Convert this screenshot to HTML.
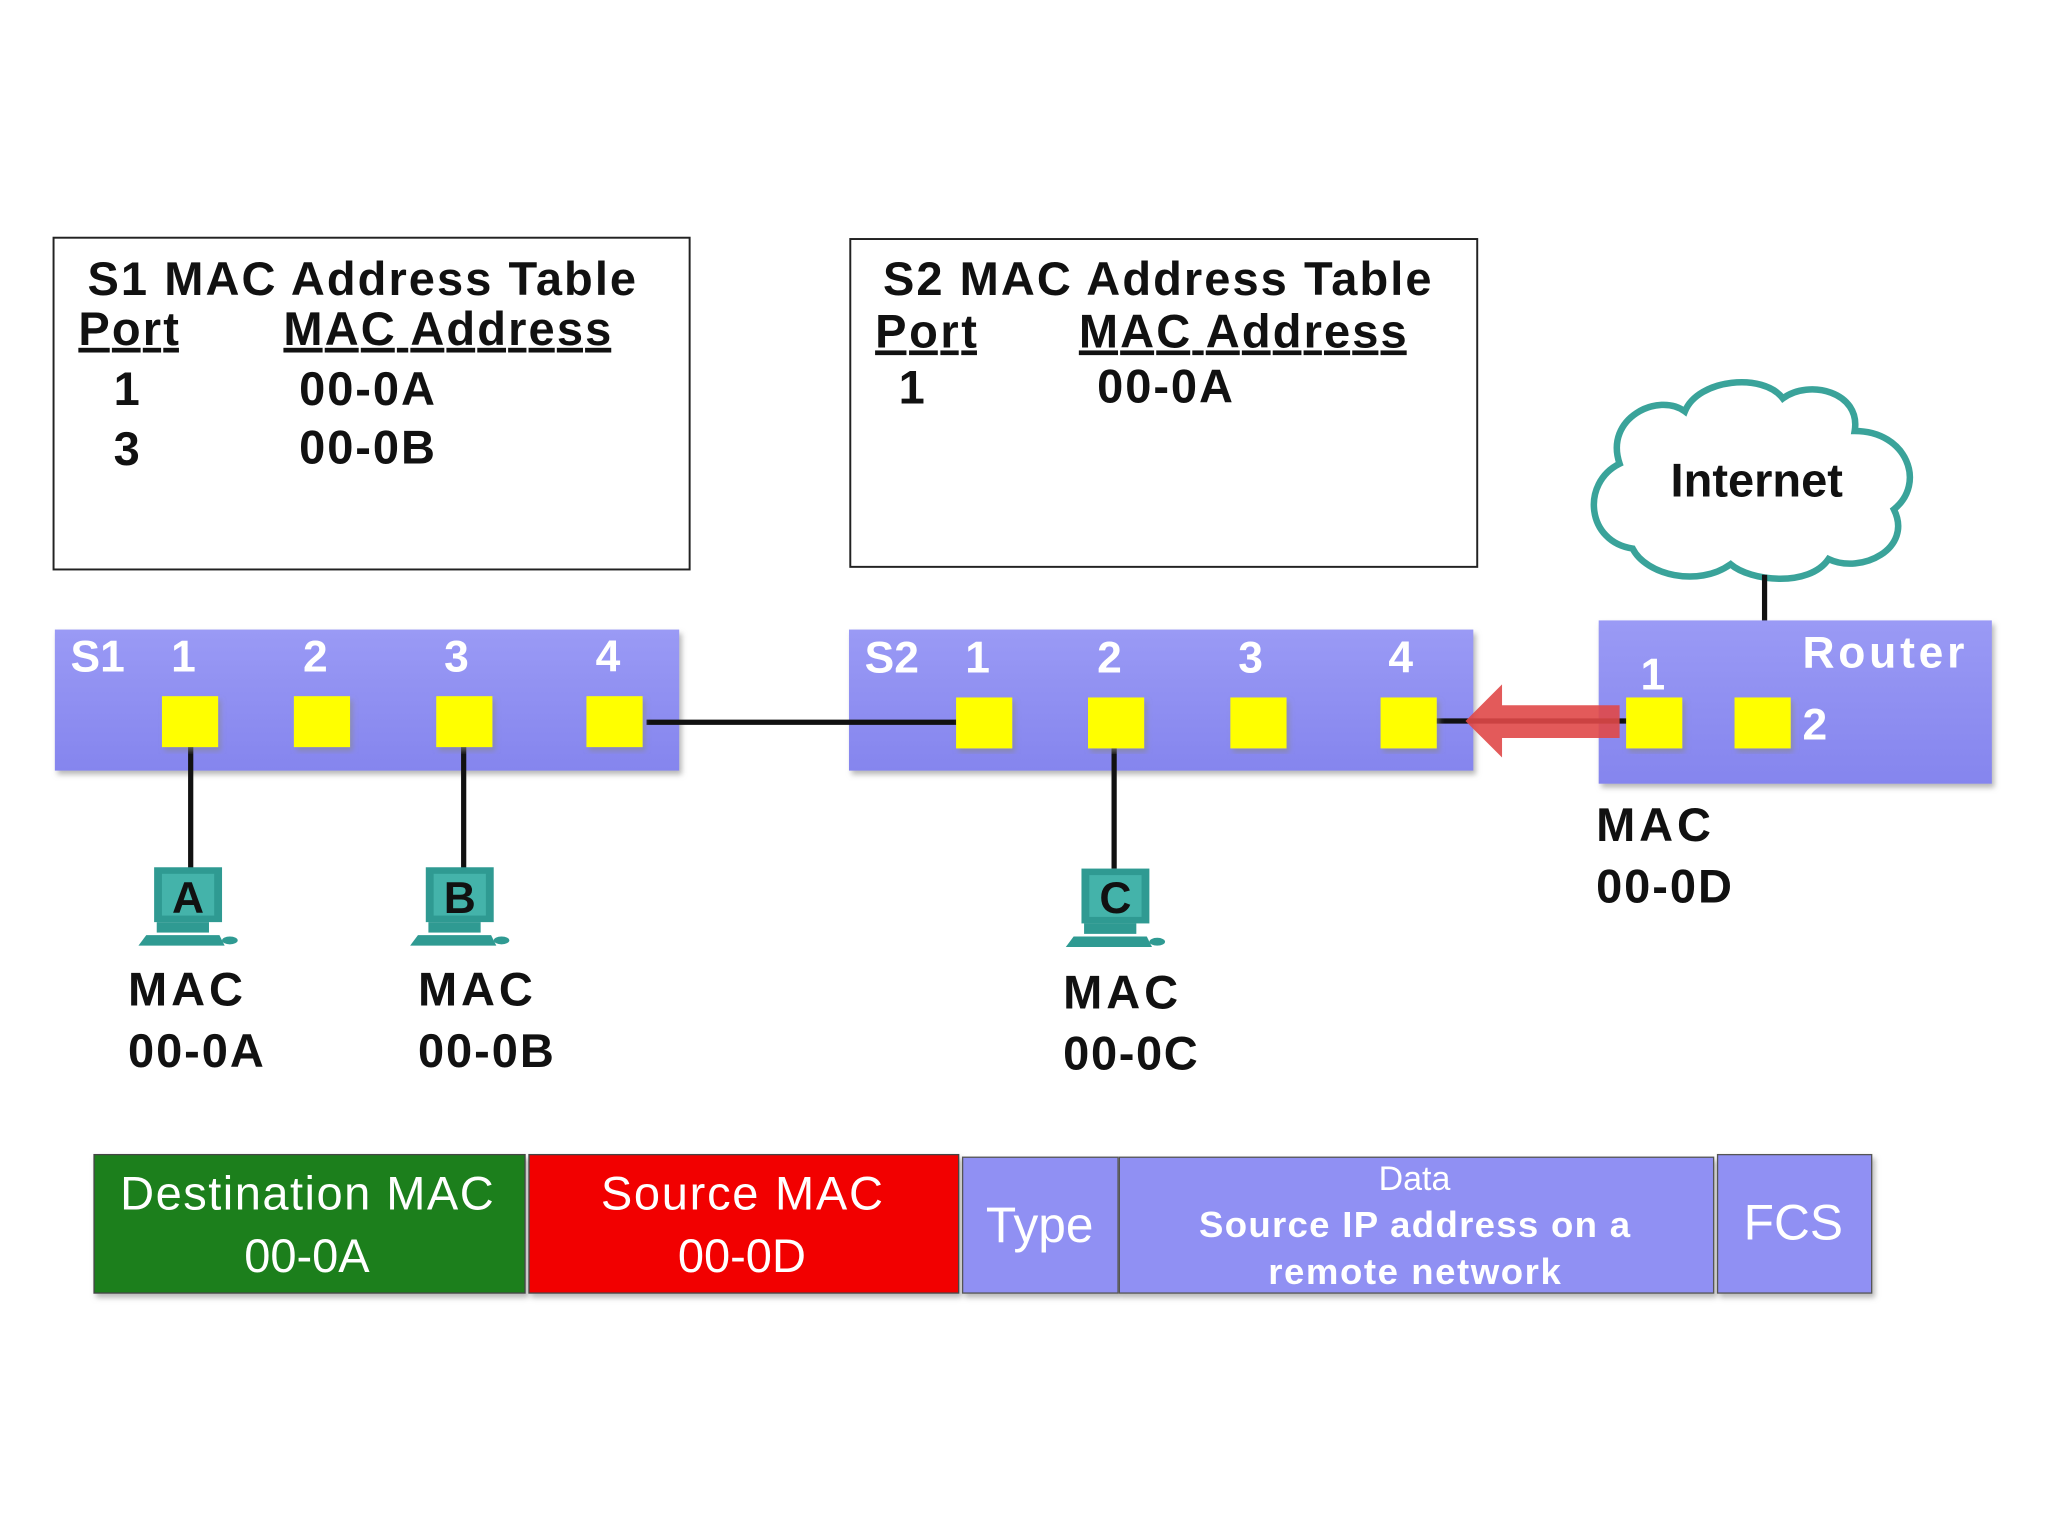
<!DOCTYPE html>
<html><head><style>html,body{margin:0;padding:0;background:#fff}svg{display:block}</style></head>
<body>
<svg width="2048" height="1536" viewBox="0 0 1568 1176" xmlns="http://www.w3.org/2000/svg" font-family="Liberation Sans, Arial, sans-serif">
<defs>
<linearGradient id="sw" x1="0" y1="0" x2="0" y2="1"><stop offset="0" stop-color="#9a9af5"/><stop offset="1" stop-color="#8585ee"/></linearGradient>
<filter id="sh"><feDropShadow dx="2" dy="3" stdDeviation="2" flood-color="#888" flood-opacity="0.6"/></filter>
</defs>
<rect width="1568" height="1176" fill="#fff"/>
<!-- tables -->
<rect x="41" y="182" width="487" height="254" fill="#fff" stroke="#222" stroke-width="1.5"/>
<g font-weight="bold" fill="#111" font-size="36">
<text x="67" y="226" textLength="420">S1 MAC Address Table</text>
<text x="60" y="264" text-decoration="underline" textLength="77">Port</text>
<text x="217" y="264" text-decoration="underline" textLength="251">MAC Address</text>
<text x="87" y="310">1</text><text x="229" y="310" textLength="104">00-0A</text>
<text x="87" y="356">3</text><text x="229" y="355" textLength="104">00-0B</text>
</g>
<rect x="651" y="183" width="480" height="251" fill="#fff" stroke="#222" stroke-width="1.5"/>
<g font-weight="bold" fill="#111" font-size="36">
<text x="676" y="226" textLength="420">S2 MAC Address Table</text>
<text x="670" y="266" text-decoration="underline" textLength="78">Port</text>
<text x="826" y="266" text-decoration="underline" textLength="251">MAC Address</text>
<text x="688" y="309">1</text><text x="840" y="308" textLength="104">00-0A</text>
</g>
<!-- cloud -->
<path d="M1250,420 C1215,415 1210,370 1240,355 C1228,320 1270,300 1290,315 C1300,290 1350,285 1365,305 C1385,290 1425,300 1420,330 C1460,330 1475,370 1450,390 C1465,420 1425,440 1400,428 C1385,450 1340,445 1325,432 C1300,450 1260,440 1250,420 Z" fill="#fff" stroke="#3aa39a" stroke-width="5"/>
<text x="1345" y="380" font-size="36" font-weight="bold" text-anchor="middle" fill="#111">Internet</text>
<line x1="1351" y1="440" x2="1351" y2="540" stroke="#111" stroke-width="4"/>
<!-- switches -->
<rect x="42" y="482" width="478" height="108" fill="url(#sw)" filter="url(#sh)"/>
<rect x="650" y="482" width="478" height="108" fill="url(#sw)" filter="url(#sh)"/>
<rect x="1224" y="475" width="301" height="125" fill="url(#sw)" filter="url(#sh)"/>
<g fill="#fff" font-weight="bold" font-size="34">
<text x="54" y="514">S1</text><text x="131" y="514">1</text><text x="232" y="514">2</text><text x="340" y="514">3</text><text x="456" y="514">4</text>
<text x="662" y="515">S2</text><text x="739" y="515">1</text><text x="840" y="515">2</text><text x="948" y="515">3</text><text x="1063" y="515">4</text>
<text x="1380" y="511" textLength="124">Router</text><text x="1256" y="528">1</text><text x="1380" y="566">2</text>
</g>
<line x1="495" y1="553" x2="735" y2="553" stroke="#111" stroke-width="4"/>
<line x1="1098" y1="552" x2="1250" y2="552" stroke="#111" stroke-width="4"/>
<line x1="146" y1="570" x2="146" y2="665" stroke="#111" stroke-width="4"/>
<line x1="355" y1="570" x2="355" y2="665" stroke="#111" stroke-width="4"/>
<line x1="853" y1="570" x2="853" y2="665" stroke="#111" stroke-width="4"/>
<g fill="#ffff00" filter="url(#sh)">
<rect x="124" y="533" width="43" height="39"/><rect x="225" y="533" width="43" height="39"/><rect x="334" y="533" width="43" height="39"/><rect x="449" y="533" width="43" height="39"/>
<rect x="732" y="534" width="43" height="39"/><rect x="833" y="534" width="43" height="39"/><rect x="942" y="534" width="43" height="39"/><rect x="1057" y="534" width="43" height="39"/>
<rect x="1245" y="534" width="43" height="39"/><rect x="1328" y="534" width="43" height="39"/>
</g>
<!-- arrow -->
<path d="M1122,552 L1150,524 L1150,540 L1240,540 L1240,565 L1150,565 L1150,580 Z" fill="#e04848" opacity="0.9"/>
<!-- PCs -->
<g id="pc">
<rect x="118" y="664" width="52" height="42" fill="#2f9a92"/>
<rect x="124" y="669" width="40" height="32" fill="#44b3aa"/>
<path d="M112,716 L168,716 L172,724 L106,724 Z" fill="#2f9a92"/>
<rect x="120" y="706" width="40" height="8" fill="#2f9a92"/>
<ellipse cx="176" cy="720" rx="6" ry="3" fill="#2f9a92"/>
</g>
<use href="#pc" x="208"/>
<use href="#pc" x="710" y="1"/>
<g font-weight="bold" fill="#111" font-size="34" text-anchor="middle">
<text x="144" y="699">A</text><text x="352" y="699">B</text><text x="854" y="699">C</text>
</g>
<g font-weight="bold" fill="#111" font-size="36">
<text x="98" y="770" textLength="88">MAC</text><text x="98" y="817" textLength="104">00-0A</text>
<text x="320" y="770" textLength="88">MAC</text><text x="320" y="817" textLength="104">00-0B</text>
<text x="814" y="772" textLength="88">MAC</text><text x="814" y="819" textLength="103">00-0C</text>
<text x="1222" y="644" textLength="88">MAC</text><text x="1222" y="691" textLength="104">00-0D</text>
</g>
<!-- frame -->
<g filter="url(#sh)">
<rect x="72" y="884" width="330" height="106" fill="#1a7f1f" stroke="#444"/>
<rect x="405" y="884" width="329" height="106" fill="#f20000" stroke="#444"/>
<rect x="737" y="886" width="119" height="104" fill="#9090f3" stroke="#555"/>
<rect x="857" y="886" width="455" height="104" fill="#9090f3" stroke="#555"/>
<rect x="1315" y="884" width="118" height="106" fill="#9090f3" stroke="#555"/>
</g>
<g fill="#fff" text-anchor="middle">
<text x="235" y="926" font-size="36" textLength="286">Destination MAC</text><text x="235" y="974" font-size="36">00-0A</text>
<text x="568" y="926" font-size="36" textLength="216">Source MAC</text><text x="568" y="974" font-size="36">00-0D</text>
<text x="796" y="951" font-size="38">Type</text>
<text x="1083" y="911" font-size="26">Data</text>
<text x="1083" y="947" font-size="28" font-weight="bold" textLength="330">Source IP address on a</text>
<text x="1083" y="983" font-size="28" font-weight="bold" textLength="224">remote network</text>
<text x="1373" y="949" font-size="38">FCS</text>
</g>
</svg>
</body></html>
